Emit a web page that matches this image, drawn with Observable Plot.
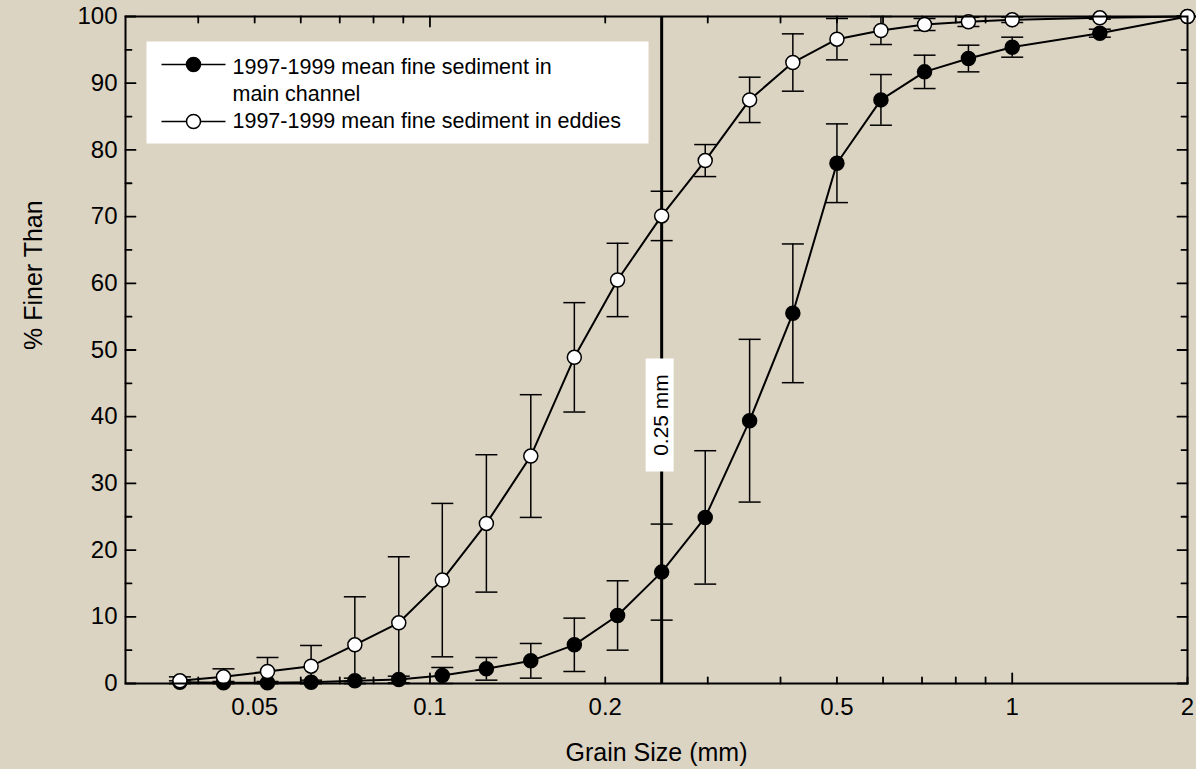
<!DOCTYPE html>
<html><head><meta charset="utf-8">
<script src="https://cdn.jsdelivr.net/npm/d3@7"></script>
<script src="https://cdn.jsdelivr.net/npm/@observablehq/plot@0.6"></script>
<style>
html,body{margin:0;padding:0;background:#dcd4c3;}
svg{display:block;}
</style></head><body><div id="chart"></div>
<script>
// Grain size classes (mm), quarter-phi
const grainSizes = [0.0372, 0.0442, 0.0526, 0.0625, 0.0743, 0.0884, 0.105, 0.125, 0.149, 0.177, 0.210, 0.25, 0.297, 0.354, 0.420, 0.5, 0.595, 0.707, 0.841, 1, 1.414, 2];
// % finer than, main channel (filled) and its +/- error
const mainChannel    = [0.2, 0.1, 0.1, 0.2, 0.4, 0.6, 1.2, 2.2, 3.4, 5.8, 10.2, 16.7, 24.9, 39.4, 55.5, 78.0, 87.5, 91.7, 93.7, 95.4, 97.5, 100];
const mainChannelErr = [0.2, 0.2, 0.2, 0.3, 0.4, 0.5, 1.2, 1.7, 2.6, 4.0, 5.2, 7.2, 10.0, 12.2, 10.4, 5.9, 3.8, 2.5, 2.0, 1.5, 0.6, 0];
// % finer than, eddies (open) and its +/- error
const eddies    = [0.4, 1.0, 1.8, 2.6, 5.8, 9.1, 15.5, 24.0, 34.1, 48.9, 60.5, 70.1, 78.4, 87.5, 93.1, 96.6, 97.9, 98.8, 99.2, 99.5, 99.8, 100];
const eddiesErr = [0.6, 1.2, 2.1, 3.1, 7.2, 9.9, 11.5, 10.3, 9.2, 8.2, 5.5, 3.7, 2.4, 3.4, 4.3, 3.1, 2.1, 0.9, 0.7, 0.4, 0.2, 0];

const seriesNames = ["1997-1999 mean fine sediment in\nmain channel", "1997-1999 mean fine sediment in eddies"];
const xTickLabels = [0.05, 0.1, 0.2, 0.5, 1, 2];
const xMajorTicks = [0.1, 1];
const xMinorTicks = [0.04, 0.05, 0.06, 0.07, 0.08, 0.09, 0.2, 0.3, 0.4, 0.5, 0.6, 0.7, 0.8, 0.9, 2];
const yTickLabels = [0, 10, 20, 30, 40, 50, 60, 70, 80, 90, 100];
const yMinorTicks = [5, 15, 25, 35, 45, 55, 65, 75, 85, 95];
const cutoff = [0.25];
const xTitle = ["Grain Size (mm)"];
const yTitle = ["% Finer Than"];

const rows = (vals, errs) => grainSizes.map((x, i) => ({
  x, y: vals[i], lo: Math.max(0, vals[i] - errs[i]), hi: Math.min(100, vals[i] + errs[i])
}));
const mainRows = rows(mainChannel, mainChannelErr);
const eddyRows = rows(eddies, eddiesErr);

const lineShape = {draw(ctx, l) { ctx.moveTo(0, 0); ctx.lineTo(0, -l); }};
const capSymbol = {draw(ctx) { ctx.moveTo(-11, 0); ctx.lineTo(11, 0); }};
const rectSymbol = (x0, y0, w, h) => ({draw(ctx) { ctx.rect(x0, y0, w, h); }});
const segSymbol = (x0, x1, y) => ({draw(ctx) { ctx.moveTo(x0, y); ctx.lineTo(x1, y); }});

const tickW = 1.8;
const FONT = "'Liberation Sans', Arial, Helvetica, sans-serif";

const chart = Plot.plot({
  width: 1196, height: 769,
  marginLeft: 125, marginRight: 9, marginTop: 16, marginBottom: 86,
  style: {fontFamily: FONT, background: "#dcd4c3", color: "black", overflow: "visible"},
  x: {type: "log", domain: [0.03, 2]},
  y: {domain: [0, 100]},
  marks: [
    // inward ticks
    Plot.vectorY(yTickLabels, {frameAnchor: "left", length: 10, rotate: 90, anchor: "start", shape: lineShape, stroke: "black", strokeWidth: tickW}),
    Plot.vectorY(yMinorTicks, {frameAnchor: "left", length: 6, rotate: 90, anchor: "start", shape: lineShape, stroke: "black", strokeWidth: tickW}),
    Plot.vectorY(yTickLabels, {frameAnchor: "right", length: 10, rotate: -90, anchor: "start", shape: lineShape, stroke: "black", strokeWidth: tickW}),
    Plot.vectorY(yMinorTicks, {frameAnchor: "right", length: 6, rotate: -90, anchor: "start", shape: lineShape, stroke: "black", strokeWidth: tickW}),
    Plot.vectorX(xMajorTicks, {frameAnchor: "bottom", length: 10, rotate: 0, anchor: "start", shape: lineShape, stroke: "black", strokeWidth: tickW}),
    Plot.vectorX(xMinorTicks, {frameAnchor: "bottom", length: 6, rotate: 0, anchor: "start", shape: lineShape, stroke: "black", strokeWidth: tickW}),
    Plot.vectorX(xMajorTicks, {frameAnchor: "top", length: 10, rotate: 180, anchor: "start", shape: lineShape, stroke: "black", strokeWidth: tickW}),
    Plot.vectorX(xMinorTicks, {frameAnchor: "top", length: 6, rotate: 180, anchor: "start", shape: lineShape, stroke: "black", strokeWidth: tickW}),
    // axes labels
    Plot.axisY(yTickLabels, {tickSize: 0, tickPadding: 8, fontSize: 24, label: null}),
    Plot.axisX(xTickLabels, {tickSize: 0, tickPadding: 14, fontSize: 24, label: null, tickFormat: d => String(d)}),
    Plot.text(xTitle, {frameAnchor: "bottom", dy: 69, fontSize: 25, text: d => d, lineAnchor: "middle"}),
    Plot.text(yTitle, {frameAnchor: "left", dx: -92, rotate: -90, fontSize: 25, text: d => d}),
    // 0.25 mm reference line
    Plot.ruleX(cutoff, {x: d => d, stroke: "black", strokeWidth: 3}),
    // legend
    Plot.dot([seriesNames[0]], {frameAnchor: "top-left", symbol: rectSymbol(21, 25, 502, 102), fill: "white", stroke: "none"}),
    Plot.dot([seriesNames[0]], {frameAnchor: "top-left", symbol: segSymbol(36, 100, 48), stroke: "black", strokeWidth: 1.5, fill: "none"}),
    Plot.dot([seriesNames[1]], {frameAnchor: "top-left", symbol: segSymbol(36, 100, 105), stroke: "black", strokeWidth: 1.5, fill: "none"}),
    Plot.dot([seriesNames[0]], {frameAnchor: "top-left", dx: 68, dy: 48, r: 7, fill: "black", stroke: "black"}),
    Plot.dot([seriesNames[1]], {frameAnchor: "top-left", dx: 68, dy: 105, r: 7, fill: "white", stroke: "black", strokeWidth: 1.5}),
    Plot.text([seriesNames[0]], {frameAnchor: "top-left", dx: 107, dy: 62.5, text: d => d, textAnchor: "start", lineAnchor: "middle", lineHeight: 1.25, fontSize: 21.5}),
    Plot.text([seriesNames[1]], {frameAnchor: "top-left", dx: 107, dy: 105, text: d => d, textAnchor: "start", lineAnchor: "middle", fontSize: 21.5}),
    // error bars
    Plot.ruleX(eddyRows, {x: "x", y1: "lo", y2: "hi", stroke: "black", strokeWidth: 1.5}),
    Plot.dot(eddyRows, {x: "x", y: "lo", symbol: capSymbol, stroke: "black", strokeWidth: 1.5, fill: "none"}),
    Plot.dot(eddyRows, {x: "x", y: "hi", symbol: capSymbol, stroke: "black", strokeWidth: 1.5, fill: "none"}),
    Plot.ruleX(mainRows, {x: "x", y1: "lo", y2: "hi", stroke: "black", strokeWidth: 1.5}),
    Plot.dot(mainRows, {x: "x", y: "lo", symbol: capSymbol, stroke: "black", strokeWidth: 1.5, fill: "none"}),
    Plot.dot(mainRows, {x: "x", y: "hi", symbol: capSymbol, stroke: "black", strokeWidth: 1.5, fill: "none"}),
    // series lines and points
    Plot.line(mainRows, {x: "x", y: "y", stroke: "black", strokeWidth: 2}),
    Plot.line(eddyRows, {x: "x", y: "y", stroke: "black", strokeWidth: 2}),
    Plot.dot(mainRows, {x: "x", y: "y", r: 7, fill: "black", stroke: "black"}),
    Plot.dot(eddyRows, {x: "x", y: "y", r: 7, fill: "white", stroke: "black", strokeWidth: 1.5}),
    // 0.25 mm label
    Plot.dot(cutoff, {x: d => d, frameAnchor: "middle", dx: -2, dy: 65, symbol: rectSymbol(-14, -56.5, 28, 113), fill: "white", stroke: "none"}),
    Plot.text(cutoff, {x: d => d, frameAnchor: "middle", dy: 65, rotate: -90, text: d => `${d} mm`, fontSize: 21}),
    Plot.frame({stroke: "black", strokeWidth: 2})
  ]
});
document.getElementById("chart").appendChild(chart);
</script>
</body></html>
